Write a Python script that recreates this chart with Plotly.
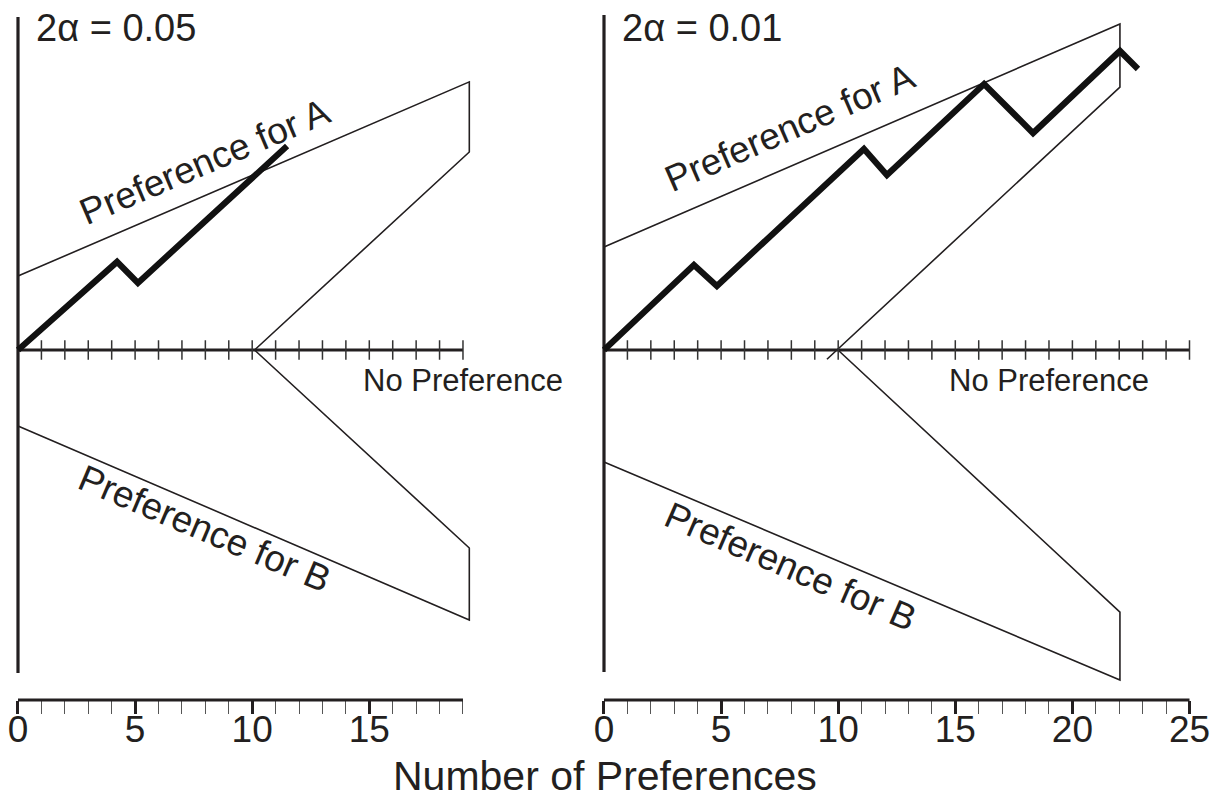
import plotly.graph_objects as go

# ---------------- data ----------------
# Left panel (2alpha = 0.05)
left_walk_x = [0, 4.23, 5.12, 11.49]
left_walk_y = [0, 4.10, 3.12, 9.49]
left_upper_x = [0, 19.27, 19.27, 10.1]
left_upper_y = [3.44, 12.47, 9.21, 0]
left_lower_x = [0, 19.27, 19.27, 10.1]
left_lower_y = [-3.53, -12.56, -9.21, 0]
left_xmax = 19

# Right panel (2alpha = 0.01)
right_walk_x = [0, 3.84, 4.82, 11.10, 12.08, 16.23, 18.32, 22.03, 22.80]
right_walk_y = [0, 3.95, 2.98, 9.35, 8.14, 12.37, 10.09, 13.91, 13.07]
right_upper_x = [0, 22.03, 22.03, 9.52]
right_upper_y = [4.79, 15.16, 12.23, -0.43]
right_lower_x = [0, 22.03, 22.03, 9.99]
right_lower_y = [-5.21, -15.35, -12.19, 0]
right_xmax = 25

major_ticks = [0, 5, 10, 15, 20, 25]

# ---------------- layout helpers ----------------
W, H = 1214, 806
PX_X = 23.42            # pixels per preference
Y0_PX = 350             # pixel row of the no-preference axis
PX_Y = 21.5             # pixels per unit of y
PLOT_BOTTOM_PX = 700
yr = [-(PLOT_BOTTOM_PX - Y0_PX) / PX_Y, Y0_PX / PX_Y]
ydom = [(H - PLOT_BOTTOM_PX) / H, 1.0]

def xdomain(x0_px, lo, hi):
    return [(x0_px + lo * PX_X) / W, (x0_px + hi * PX_X) / W]

INK = "#231f20"
FONT = "Liberation Sans, Arial, Helvetica, sans-serif"

fig = go.Figure()

panels = [
    dict(xa="x", ya="y", x0=18, lo=-0.6, hi=19.8, walk=(left_walk_x, left_walk_y),
         up=(left_upper_x, left_upper_y), low=(left_lower_x, left_lower_y),
         xmax=left_xmax, vtop=15.49, vbot=-15.02, alpha="2α = 0.05",
         la=(8.0, 8.75), lb=(7.95, -8.3), np=(19.0, -1.40), ang=23),
    dict(xa="x2", ya="y2", x0=604, lo=-0.6, hi=25.6, walk=(right_walk_x, right_walk_y),
         up=(right_upper_x, right_upper_y), low=(right_lower_x, right_lower_y),
         xmax=right_xmax, vtop=15.58, vbot=-14.98, alpha="2α = 0.01",
         la=(7.95, 10.35), lb=(7.95, -10.05), np=(19.0, -1.40), ang=23.5),
]

for p in panels:
    xa, ya = p["xa"], p["ya"]
    # boundary lines
    for bx, by in (p["up"], p["low"]):
        fig.add_trace(go.Scatter(x=bx, y=by, mode="lines", xaxis=xa, yaxis=ya,
                                 line=dict(color=INK, width=1.6), hoverinfo="skip", showlegend=False))
    # vertical axis
    fig.add_trace(go.Scatter(x=[0, 0], y=[p["vbot"], p["vtop"]], mode="lines", xaxis=xa, yaxis=ya,
                             line=dict(color=INK, width=3.2), hoverinfo="skip", showlegend=False))
    # no-preference axis
    fig.add_trace(go.Scatter(x=[0, p["xmax"]], y=[0, 0], mode="lines", xaxis=xa, yaxis=ya,
                             line=dict(color=INK, width=3.2), hoverinfo="skip", showlegend=False))
    ticks = list(range(1, p["xmax"] + 1))
    fig.add_trace(go.Scatter(x=ticks, y=[0] * len(ticks), mode="markers", xaxis=xa, yaxis=ya,
                             marker=dict(symbol="line-ns", size=14, line=dict(color="#333", width=1.5)),
                             hoverinfo="skip", showlegend=False))
    # random walk
    wx, wy = p["walk"]
    fig.add_trace(go.Scatter(x=wx, y=wy, mode="lines", xaxis=xa, yaxis=ya,
                             line=dict(color="#111", width=6.2), hoverinfo="skip", showlegend=False))
    # bottom axis baseline
    fig.add_shape(type="line", xref=xa, yref="paper", x0=0, x1=p["xmax"],
                  y0=ydom[0], y1=ydom[0], line=dict(color=INK, width=3.2))

    # texts
    fig.add_annotation(x=0.7, y=14.98, xref=xa, yref=ya, text=p["alpha"], showarrow=False,
                       xanchor="left", yanchor="middle", font=dict(size=38, color=INK, family=FONT))
    fig.add_annotation(x=p["la"][0], y=p["la"][1], xref=xa, yref=ya, text="Preference for A",
                       showarrow=False, textangle=-p["ang"], font=dict(size=37, color=INK, family=FONT))
    fig.add_annotation(x=p["lb"][0], y=p["lb"][1], xref=xa, yref=ya, text="Preference for B",
                       showarrow=False, textangle=p["ang"], font=dict(size=37, color=INK, family=FONT))
    fig.add_annotation(x=p["np"][0], y=p["np"][1], xref=xa, yref=ya, text="No Preference",
                       showarrow=False, font=dict(size=31, color=INK, family=FONT))

def xaxis_cfg(p):
    majors = [t for t in major_ticks if t <= p["xmax"]]
    minors = [t for t in range(0, p["xmax"] + 1) if t not in majors]
    return dict(domain=xdomain(p["x0"], p["lo"], p["hi"]), range=[p["lo"], p["hi"]],
                showgrid=False, zeroline=False, showline=False, automargin=False,
                tickmode="array", tickvals=majors, ticktext=[str(t) for t in majors],
                ticks="outside", ticklen=13, tickwidth=2.6, tickcolor=INK,
                ticklabelstandoff=-16,
                tickfont=dict(size=37, color=INK, family=FONT),
                minor=dict(tickmode="array", tickvals=minors, ticks="outside",
                           ticklen=13, tickwidth=1.1, tickcolor="#555", showgrid=False),
                fixedrange=True)

def yaxis_cfg(anchor):
    return dict(domain=ydom, range=yr, visible=False, fixedrange=True, anchor=anchor,
                automargin=False)

fig.update_layout(
    width=W, height=H,
    margin=dict(l=0, r=0, t=0, b=0, autoexpand=False),
    paper_bgcolor="white", plot_bgcolor="white",
    showlegend=False,
    font=dict(family=FONT, color=INK),
    xaxis=dict(anchor="y", **xaxis_cfg(panels[0])),
    xaxis2=dict(anchor="y2", **xaxis_cfg(panels[1])),
    yaxis=yaxis_cfg("x"),
    yaxis2=yaxis_cfg("x2"),
)

fig.add_annotation(x=0.498, y=(H - 776) / H, xref="paper", yref="paper",
                   text="Number of Preferences", showarrow=False, yanchor="middle",
                   borderpad=0, font=dict(size=41, color=INK, family=FONT))

fig.write_html(
    "out.html",
    config={"displayModeBar": False, "responsive": False},
    post_script=("document.body.style.margin='0';"
                 "document.body.style.overflow='hidden';"
                 "document.documentElement.style.overflow='hidden';"),
)
